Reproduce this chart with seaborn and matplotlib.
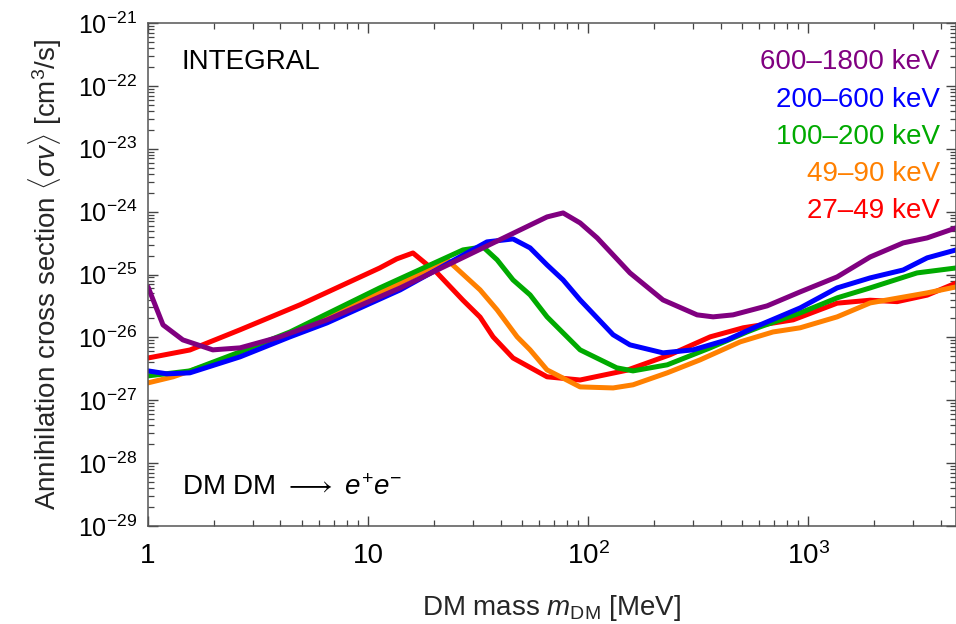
import numpy as np
import pandas as pd
import matplotlib
matplotlib.use("Agg")
import matplotlib.pyplot as plt
import seaborn as sns
from matplotlib.ticker import LogLocator, NullFormatter, FixedLocator, FixedFormatter

# ---------------- data ----------------
red_mass = [1, 1.55, 2.62, 4.91, 11.3, 13.5, 16.0, 20.6, 27.0, 32.3, 37.0, 45.6, 65.1, 92,
            150, 236, 359, 507, 855, 1355, 1914, 2539, 3476, 4700]
red_sigma = [4.7e-27, 6.3e-27, 1.32e-26, 3.3e-26, 1.27e-25, 1.77e-25, 2.2e-25, 1.06e-25,
             3.9e-26, 2.1e-26, 1.02e-26, 4.7e-27, 2.36e-27, 2.1e-27, 3.0e-27, 5.3e-27,
             1.02e-26, 1.42e-26, 1.9e-26, 3.5e-26, 3.9e-26, 3.7e-26, 4.7e-26, 7.3e-26]

orange_mass = [1, 1.30, 2.62, 4.91, 14.0, 22.9, 32.3, 38.6, 47.6, 54.5, 65.1, 92, 130, 160,
               229, 323, 491, 693, 920, 1355, 1914, 3476, 4700]
orange_sigma = [1.89e-27, 2.36e-27, 5.47e-27, 1.27e-26, 7.35e-26, 1.71e-25, 5.69e-26,
                2.74e-26, 1.02e-26, 6.33e-27, 3.04e-27, 1.63e-27, 1.57e-27, 1.76e-27,
                2.73e-27, 4.39e-27, 8.48e-27, 1.22e-26, 1.42e-26, 2.12e-26, 3.53e-26,
                5.10e-26, 6.35e-26]

green_mass = [1, 1.55, 2.62, 4.42, 11.3, 27.0, 33.3, 38.6, 45.6, 54.5, 65.1, 92, 135, 160,
              229, 359, 528, 605, 920, 1355, 1914, 3127, 4700]
green_sigma = [2.44e-27, 2.93e-27, 5.88e-27, 1.22e-26, 6.12e-26, 2.46e-25, 2.75e-25,
               1.71e-25, 8.2e-26, 4.74e-26, 2.12e-26, 6.33e-27, 3.28e-27, 2.93e-27,
               3.66e-27, 6.81e-27, 1.22e-26, 1.47e-26, 2.45e-26, 4.25e-26, 6.12e-26,
               1.06e-25, 1.27e-25]

blue_mass = [1, 1.22, 1.55, 2.62, 4.42, 6.51, 14.0, 34.7, 45.6, 54.5, 65.1, 77, 92, 130,
             155, 219, 300, 428, 605, 920, 1355, 1914, 2704, 3476, 4700]
blue_sigma = [2.93e-27, 2.63e-27, 2.73e-27, 4.9e-27, 1.02e-26, 1.70e-26, 5.69e-26, 3.30e-25,
              3.68e-25, 2.65e-25, 1.42e-25, 8.2e-26, 3.94e-26, 1.10e-26, 7.6e-27, 5.67e-27,
              6.33e-27, 9.12e-27, 1.58e-26, 2.94e-26, 6.12e-26, 8.83e-26, 1.18e-25,
              1.84e-25, 2.46e-25]

purple_mass = [1, 1.17, 1.44, 1.97, 2.62, 3.98, 6.51, 14.0, 65.1, 77, 92, 110, 155, 219,
               313, 370, 456, 651, 920, 1355, 1914, 2704, 3476, 4700]
purple_sigma = [6.35e-26, 1.58e-26, 9.12e-27, 6.33e-27, 6.81e-27, 1.02e-26, 1.90e-26,
                6.12e-26, 8.24e-25, 9.53e-25, 6.61e-25, 3.82e-25, 1.06e-25, 3.94e-26,
                2.28e-26, 2.12e-26, 2.28e-26, 3.17e-26, 5.29e-26, 9.16e-26, 1.90e-25,
                3.18e-25, 3.82e-25, 5.51e-25]

band_labels = ["27\u201349 keV", "49\u201390 keV", "100\u2013200 keV",
               "200\u2013600 keV", "600\u20131800 keV"]
band_colors = ["#ff0000", "#ff8000", "#00aa00", "#0000ff", "#800080"]

x_ticks = [1, 10, 100, 1000]
x_tick_labels = ["1", "10", "$10^2$", "$10^3$"]

# ---------------- long-form table ----------------
series = [(red_mass, red_sigma), (orange_mass, orange_sigma), (green_mass, green_sigma),
          (blue_mass, blue_sigma), (purple_mass, purple_sigma)]
frames = []
for lab, (m, s) in zip(band_labels, series):
    frames.append(pd.DataFrame({"mass": m, "sigma": s, "band": lab}))
df = pd.concat(frames, ignore_index=True)

# ---------------- style ----------------
sns.set_style("ticks")
plt.rcParams["font.family"] = ["Liberation Sans", "DejaVu Sans"]
plt.rcParams["mathtext.fontset"] = "custom"
plt.rcParams["mathtext.rm"] = "Liberation Sans"
plt.rcParams["mathtext.it"] = "Liberation Sans:italic"
plt.rcParams["mathtext.bf"] = "Liberation Sans:bold"

FS = 20
fig = plt.figure(figsize=(9.56, 6.24), dpi=100)
ax = fig.add_axes([148 / 956, 1 - 526 / 624, 808 / 956, (526 - 23) / 624])

palette = dict(zip(band_labels, band_colors))
sns.lineplot(data=df, x="mass", y="sigma", hue="band", hue_order=band_labels,
             palette=palette, sort=False, estimator=None, linewidth=3.6,
             legend=False, ax=ax)

ax.set_xscale("log")
ax.set_yscale("log")
ax.set_xlim(1, 4700)
ax.set_ylim(1e-29, 1e-21)

ax.xaxis.set_major_locator(FixedLocator(x_ticks))
ax.xaxis.set_major_formatter(FixedFormatter(x_tick_labels))
ax.xaxis.set_minor_locator(LogLocator(base=10, subs=np.arange(2, 10)))
ax.xaxis.set_minor_formatter(NullFormatter())
ax.yaxis.set_major_locator(LogLocator(base=10, numticks=20))
ax.yaxis.set_minor_locator(LogLocator(base=10, subs=np.arange(2, 10), numticks=20))
ax.yaxis.set_minor_formatter(NullFormatter())

ax.tick_params(which="both", direction="in", top=True, right=True, colors="#444444",
               labelcolor="black", labelsize=FS)
ax.tick_params(axis="y", which="major", labelsize=18, pad=8)
ax.tick_params(which="major", length=7, width=1.0)
ax.tick_params(which="minor", length=4.5, width=0.9)
ax.tick_params(axis="x", which="major", pad=12)
for sp in ax.spines.values():
    sp.set_color("#555555")
    sp.set_linewidth(1.1)

ax.set_xlabel(r"DM mass $m_{\rm DM}$ [MeV]", fontsize=FS, labelpad=16)
ax.set_ylabel(r"Annihilation cross section $\langle\sigma v\rangle$ [cm$^3$/s]",
              fontsize=FS, labelpad=10)

ax.text((182 - 148) / 808, 1 - (62 - 23) / 503, "INTEGRAL", transform=ax.transAxes,
        fontsize=FS, ha="left", va="center", color="black")
ax.text((182 - 148) / 808, 1 - (488 - 23) / 503, r"DM DM $\longrightarrow$ $e^{+}e^{-}$",
        transform=ax.transAxes, fontsize=FS, ha="left", va="center", color="black")

y_positions = [211, 174, 137, 100, 62]
for lab, col, yp in zip(band_labels, band_colors, y_positions):
    ax.text((940 - 148) / 808, 1 - (yp - 23) / 503, lab, transform=ax.transAxes,
            fontsize=FS, ha="right", va="center", color=col)

fig.savefig("out.png", dpi=100)
